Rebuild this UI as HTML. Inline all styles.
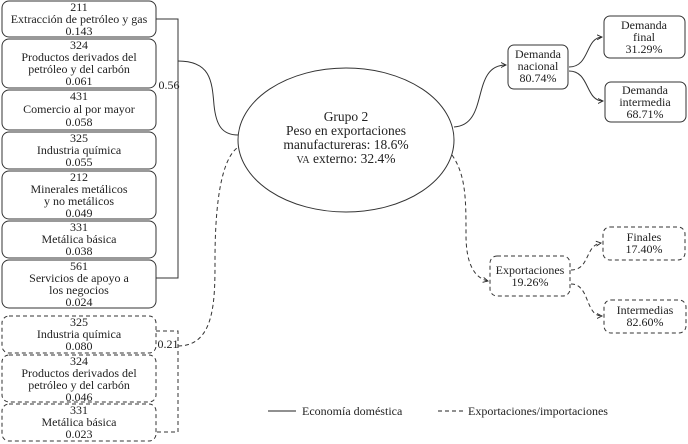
<!DOCTYPE html>
<html><head><meta charset="utf-8"><style>
html,body{margin:0;padding:0;background:#fff;}
svg{display:block;}
svg text{font-family:"Liberation Serif","Times New Roman","DejaVu Serif",serif;font-size:12px;fill:#222;text-anchor:middle;}
</style></head><body>
<svg width="688" height="444" viewBox="0 0 688 444" xmlns="http://www.w3.org/2000/svg" font-family="Liberation Serif, DejaVu Serif, serif">
<defs>
<marker id="ar" markerWidth="6" markerHeight="6" refX="5" refY="3" orient="auto"><path d="M0,0.5 L5,3 L0,5.5" fill="none" stroke="#222" stroke-width="0.9"/></marker>
</defs>
<g fill="none" stroke="#333" stroke-width="1">
<rect x="2" y="1" width="154" height="36" rx="7"/>
<rect x="2" y="39" width="154" height="49" rx="7"/>
<rect x="2" y="90" width="154" height="40" rx="7"/>
<rect x="2" y="132" width="154" height="37" rx="7"/>
<rect x="2" y="171" width="154" height="48" rx="7"/>
<rect x="2" y="221" width="154" height="37" rx="7"/>
<rect x="2" y="260" width="154" height="48" rx="7"/>
<g stroke-dasharray="4,3">
<rect x="2" y="316" width="154" height="37" rx="7"/>
<rect x="2" y="355" width="154" height="47" rx="7"/>
<rect x="2" y="404" width="154" height="37" rx="7"/>
<path d="M156,331 H178 V432 H156"/>
<path d="M178,346 C215,346 215,300 215,260 C215,200 222,160 237,148"/>
<path d="M452,155 C466,175 466,200 466,235 C466,265 475,278 488,281" marker-end="url(#ar)"/>
<rect x="490" y="256" width="80" height="40" rx="7"/>
<rect x="603" y="227" width="82" height="33" rx="7"/>
<rect x="604" y="300" width="82" height="33" rx="7"/>
<path d="M571,270 C590,270 585,245 601,243" marker-end="url(#ar)"/>
<path d="M571,284 C590,284 585,316 602,316" marker-end="url(#ar)"/>
<path d="M438,411 H466" stroke="#222"/>
</g>
<path d="M156,19 H178 V278 H156"/>
<path d="M178,61 C210,61 212,80 214,105 C216,125 222,135 238,135"/>
<ellipse cx="346" cy="140" rx="108" ry="72"/>
<path d="M454,127 C490,125 470,65 506,65" marker-end="url(#ar)"/>
<rect x="508" y="45" width="60" height="44" rx="6"/>
<rect x="604" y="16" width="81" height="42" rx="6"/>
<rect x="605" y="82" width="81" height="40" rx="6"/>
<path d="M569,67 C590,67 585,38 602,37" marker-end="url(#ar)"/>
<path d="M569,71 C590,71 585,101 603,101" marker-end="url(#ar)"/>
<path d="M268,411 H296" stroke="#222"/>
</g>
<text x="79" y="11">211</text>
<text x="79" y="23">Extracción de petróleo y gas</text>
<text x="79" y="35">0.143</text>
<text x="79" y="49">324</text>
<text x="79" y="61">Productos derivados del</text>
<text x="79" y="73">petróleo y del carbón</text>
<text x="79" y="85">0.061</text>
<text x="79" y="100">431</text>
<text x="79" y="113">Comercio al por mayor</text>
<text x="79" y="126">0.058</text>
<text x="79" y="142">325</text>
<text x="79" y="154">Industria química</text>
<text x="79" y="166">0.055</text>
<text x="79" y="181">212</text>
<text x="79" y="193">Minerales metálicos</text>
<text x="79" y="205">y no metálicos</text>
<text x="79" y="217">0.049</text>
<text x="79" y="231">331</text>
<text x="79" y="243">Metálica básica</text>
<text x="79" y="255">0.038</text>
<text x="79" y="270">561</text>
<text x="79" y="282">Servicios de apoyo a</text>
<text x="79" y="294">los negocios</text>
<text x="79" y="306">0.024</text>
<text x="79" y="326">325</text>
<text x="79" y="338">Industria química</text>
<text x="79" y="350">0.080</text>
<text x="79" y="365">324</text>
<text x="79" y="377">Productos derivados del</text>
<text x="79" y="389">petróleo y del carbón</text>
<text x="79" y="401">0.046</text>
<text x="79" y="414">331</text>
<text x="79" y="426">Metálica básica</text>
<text x="79" y="438">0.023</text>
<text x="169" y="89">0.56</text>
<text x="168" y="348">0.21</text>
<text x="346" y="121" style="font-size:13.5px">Grupo 2</text>
<text x="346" y="135" style="font-size:13.5px">Peso en exportaciones</text>
<text x="346" y="149" style="font-size:13.5px">manufactureras: 18.6%</text>
<text x="346" y="163" style="font-size:13.5px"><tspan style="font-size:10px">VA</tspan> externo: 32.4%</text>
<text x="538" y="58">Demanda</text>
<text x="538" y="70">nacional</text>
<text x="538" y="82">80.74%</text>
<text x="644" y="29">Demanda</text>
<text x="644" y="41">final</text>
<text x="644" y="53">31.29%</text>
<text x="645" y="94">Demanda</text>
<text x="645" y="106">intermedia</text>
<text x="645" y="118">68.71%</text>
<text x="530" y="274">Exportaciones</text>
<text x="530" y="286">19.26%</text>
<text x="644" y="241">Finales</text>
<text x="644" y="253">17.40%</text>
<text x="645" y="314">Intermedias</text>
<text x="645" y="326">82.60%</text>
<text x="302" y="415" style="text-anchor:start">Economía doméstica</text>
<text x="468" y="415" style="text-anchor:start">Exportaciones/importaciones</text>
</svg>
</body></html>
